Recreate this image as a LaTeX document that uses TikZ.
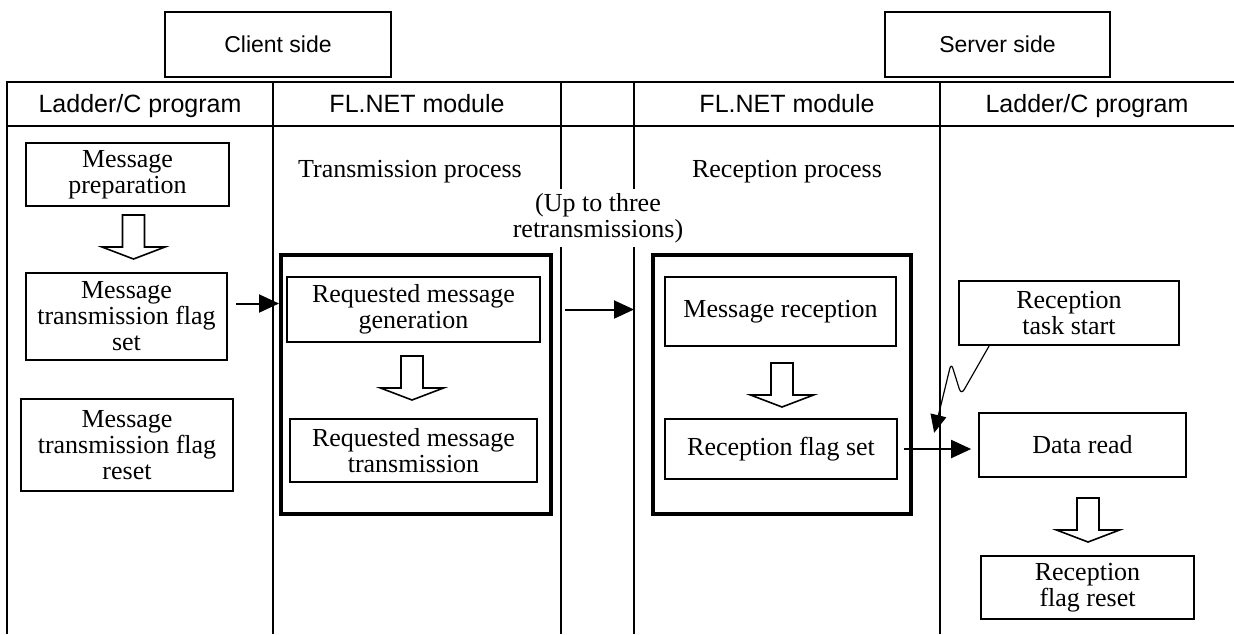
\documentclass[tikz,border=0pt]{standalone}
\usepackage{fontspec}
\setmainfont{Liberation Serif}
\setsansfont{Liberation Sans}
\usetikzlibrary{arrows.meta,positioning}
\tikzset{
  box/.style={draw,line width=0.85pt,align=center,inner sep=1pt,
              font=\fontsize{13}{13}\selectfont},
  side/.style={draw,line width=0.7pt,minimum height=32.5pt,
              font=\sffamily\fontsize{11.5}{13}\selectfont},
  head/.style={font=\sffamily\fontsize{12.5}{14}\selectfont,text height=8.95pt,text depth=0pt},
  proc/.style={font=\fontsize{13}{13}\selectfont,align=center},
  bigbox/.style={draw,line width=2pt},
  arr/.style={-{Triangle[length=10pt,width=9pt]},line width=1pt},
  zap/.style={-{Triangle[length=9pt,width=8pt]},line width=0.6pt,rounded corners=3pt},
  bigdown/.pic={\draw[line width=0.8pt,fill=white] (-11,0) -- (11,0) -- (11,32)
              -- (31.5,32) -- (0,44) -- (-31.5,32) -- (-11,32) -- cycle;}
}
\begin{document}
\begin{tikzpicture}[x=0.5pt,y=-0.5pt]
    \useasboundingbox (0,0) rectangle (1234,634);
    \draw[line width=1pt] (7,634) -- (7,82) -- (1234,82);
    \draw[line width=1pt] (7,126) -- (1234,126);
    \foreach \x/\w in {273/0.6pt,561/1pt,634/1pt,940/0.6pt}
      \draw[line width=\w] (\x,82) -- (\x,634);
    \coordinate (netL) at (561,82);
    \coordinate (netR) at (634,82);
    \node[side,minimum width=113pt] (client) at (278,44.5) {Client side};
    \node[side,minimum width=112.5pt] (server) at (997.5,44.5) {Server side};
    \node[head] (h1) at (140,104) {Ladder/C program};
    \node[head] (h2) at (417,104) {FL.NET module};
    \node[head] (h3) at (787,104) {FL.NET module};
    \node[head] (h4) at (1087,104) {Ladder/C program};
    \node[proc] (txlbl) at (410,172) {Transmission process};
    \node[proc] (rxlbl) at (787,172) {Reception process};
    \node[proc,fill=white,inner xsep=1pt,inner ysep=2pt] (retry) at (598,218)
         {(Up to three\\retransmissions)};
    \node[bigbox,minimum width=135pt,minimum height=129.5pt] (txbig) at (416,384.5) {};
    \node[bigbox,minimum width=129pt,minimum height=129.5pt] (rxbig) at (782,384.5) {};
    \node[box,minimum width=101.5pt,minimum height=31.5pt] (prep) at (127.5,174.5)
         {Message\\preparation};
    \node[box,minimum width=100.5pt,minimum height=43.5pt] (setflag) at (126.5,316.5)
         {Message\\transmission flag\\set};
    \node[box,minimum width=106pt,minimum height=46pt] (resetflag) at (127,445)
         {Message\\transmission flag\\reset};
    \node[box,minimum width=126.5pt,minimum height=32.5pt] (gen) at (413.5,309.5)
         {Requested message\\generation};
    \node[box,minimum width=123.5pt,minimum height=31.5pt] (trans) at (413.5,450.5)
         {Requested message\\transmission};
    \node[box,minimum width=115.5pt,minimum height=34.5pt] (msgrx) at (780.5,311.5)
         {Message reception};
    \node[box,minimum width=116pt,minimum height=30pt] (rxflag) at (781,449)
         {Reception flag set};
    \node[box,minimum width=110pt,minimum height=32pt] (task) at (1069,313)
         {Reception\\task start};
    \node[box,minimum width=103.5pt,minimum height=32pt] (dataread) at (1082.5,445)
         {Data read};
    \node[box,minimum width=106.5pt,minimum height=31.5pt] (rxreset) at (1087.5,587.5)
         {Reception\\flag reset};
    \pic at (133.5,215) {bigdown};
    \pic at (412,356) {bigdown};
    \pic at (782,363) {bigdown};
    \pic at (1088,498) {bigdown};
    \coordinate (sendpt) at ([yshift=6.5pt]setflag.east);
    \draw[arr,shorten <=4pt] (sendpt) -- (sendpt -| txbig.west);
    \draw[arr,shorten <=2pt] (netL |- gen.east) -- (netR |- gen.east);
    \draw[arr,shorten <=3pt,shorten >=3.5pt] (rxflag.east) -- (rxflag.east -| dataread.west);
    \draw[zap] ([xshift=15.5pt]task.south west) -- ++(-28,49) -- ++(-10,-32) -- ++(-17,70);
\end{tikzpicture}
\end{document}
